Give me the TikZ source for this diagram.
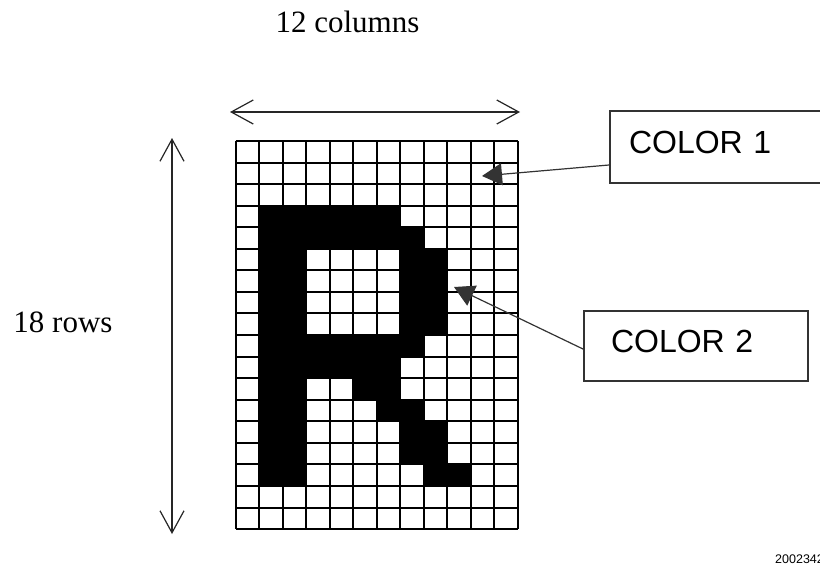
\documentclass[tikz,border=0pt]{standalone}
\usepackage{fontspec}
\setmainfont{Liberation Serif}
\newfontfamily\labelfont{Liberation Sans}
\usetikzlibrary{arrows.meta}
\tikzset{
  dimarrow/.style={draw=black!85, line width=1.2pt, {Straight Barb[length=22pt,width=24pt]}-{Straight Barb[length=22pt,width=24pt]}},
  colorbox/.style={draw=black!80, line width=2pt, anchor=north west, text depth=10pt, font=\labelfont\fontsize{32}{38}\selectfont},
  pointer/.style={draw=black!80, line width=1.2pt, -{Triangle[length=20pt,width=22pt]}},
  caption/.style={inner sep=0pt, anchor=base, font=\fontsize{31}{36}\selectfont}
}
\begin{document}
\begin{tikzpicture}[x=1pt,y=-1pt]
\useasboundingbox (0,0) rectangle (820,565);
\clip (0,0) rectangle (820,565);
\begin{scope}[shift={(235.5,141)}, x=23.5pt, y=-21.56pt]
\foreach \r/\a/\b in {3/1/6, 4/1/7, 5/1/2, 5/7/8, 6/1/2, 6/7/8, 7/1/2, 7/7/8, 8/1/2, 8/7/8, 9/1/7, 10/1/6, 11/1/2, 11/5/6, 12/1/2, 12/6/7, 13/1/2, 13/7/8, 14/1/2, 14/7/8, 15/1/2, 15/8/9}
  \fill (\a,\r) rectangle (\b+1,\r+1);
\draw[line width=2pt]
  \foreach \i in {0,...,12}{ (\i,0) -- (\i,18)}
  \foreach \j in {0,...,18}{ (0,\j) -- (12,\j)};
\end{scope}
\node[caption] (cols) at (347.5,32) {12 columns};
\node[caption] (rows) at (63,332) {18 rows};
\coordinate (colsL) at (230,112);
\coordinate (colsR) at (520,112);
\coordinate (rowsT) at (172,138);
\coordinate (rowsB) at (172,534);
\draw[dimarrow] (colsL) -- (colsR);
\draw[dimarrow] (rowsT) -- (rowsB);
\node[colorbox, minimum height=72pt, inner xsep=19pt, text width=188pt] (color1) at (609,110) {COLOR 1};
\node[colorbox, minimum height=70pt, inner xsep=27pt, text width=170pt] (color2) at (583,310) {COLOR 2};
\coordinate (tip1) at (482,176);
\coordinate (tip2) at (454,287);
\draw[pointer] ([yshift=-18pt]color1.west) -- (tip1);
\draw[pointer] ([yshift=-3pt]color2.west) -- (tip2);
\node[inner sep=0pt, anchor=base west, font=\labelfont\fontsize{12.5}{15}\selectfont] (code) at (775,563) {2002342};
\end{tikzpicture}
\end{document}
